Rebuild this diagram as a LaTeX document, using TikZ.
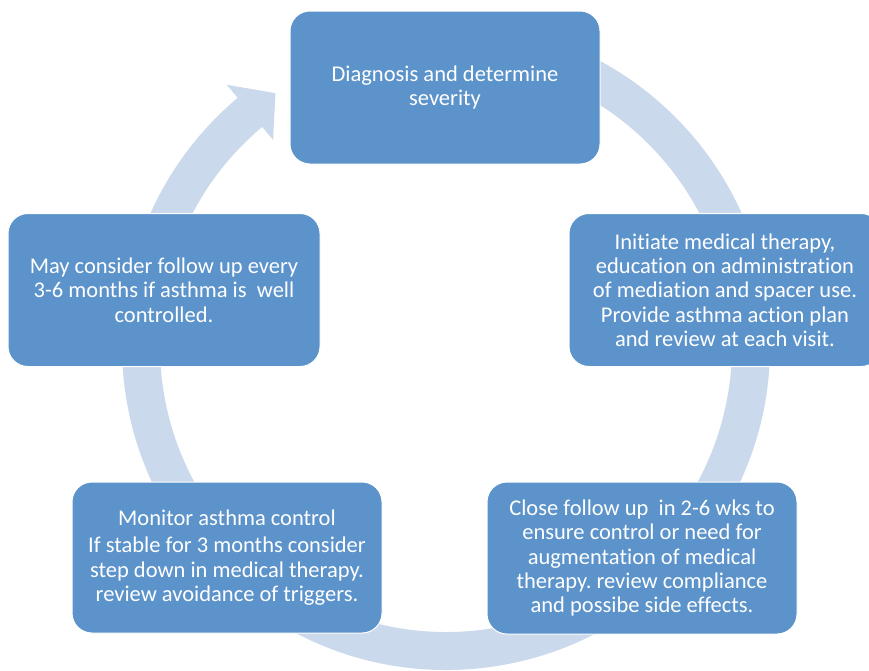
\documentclass[tikz,border=0pt]{standalone}
\usepackage{fontspec}
\setmainfont{Carlito}[Ligatures=NoCommon]
\frenchspacing
\definecolor{boxblue}{RGB}{92,147,202}
\definecolor{ringblue}{RGB}{203,217,236}
\tikzset{
  stagebox/.style={fill=boxblue, draw=white, line width=1pt, rounded corners=20pt,
    minimum width=310pt, minimum height=153pt, text=white, align=center,
    font=\fontsize{22.5}{24.3}\selectfont\frenchspacing, inner sep=2pt},
  ring/.style={fill=ringblue}
}
\begin{document}
\begin{tikzpicture}[x=1pt,y=1pt]
\useasboundingbox (0,0) rectangle (869,-670);
\clip (0,0) rectangle (869,-670);
% cycle ring with arrow head
\begin{scope}[shift={(446,-346)}]
\fill[ring] (95:324) arc[start angle=95, end angle=-230, radius=324]
  -- (-230:341) -- (-236:305) -- (-230:269) -- (-230:286)
  arc[start angle=-230, end angle=95, radius=286] -- cycle;
\end{scope}
% stages
\node[stagebox] (diag) at (445,-87.5) {Diagnosis and determine\\severity};
\node[stagebox, minimum width=312pt] (init) at (725,-290) {Initiate medical therapy,\\education on administration\\of mediation and spacer use.\\Provide asthma action plan\\and review at each visit.};
\node[stagebox, minimum height=152pt] (close) at (642,-558) {Close follow up\ \ in 2-6 wks to\\ensure control or need for\\augmentation of medical\\therapy. review compliance\\and possibe side effects.};
\node[stagebox, minimum height=151pt] (mon) at (227,-557.5) {Monitor asthma control\\[3pt]If stable for 3 months consider\\step down in medical therapy.\\review avoidance of triggers.};
\node[stagebox, minimum width=312pt] (may) at (164,-290) {May consider follow up every\\3-6 months if asthma is\ \ well\\controlled.};
\end{tikzpicture}
\end{document}
